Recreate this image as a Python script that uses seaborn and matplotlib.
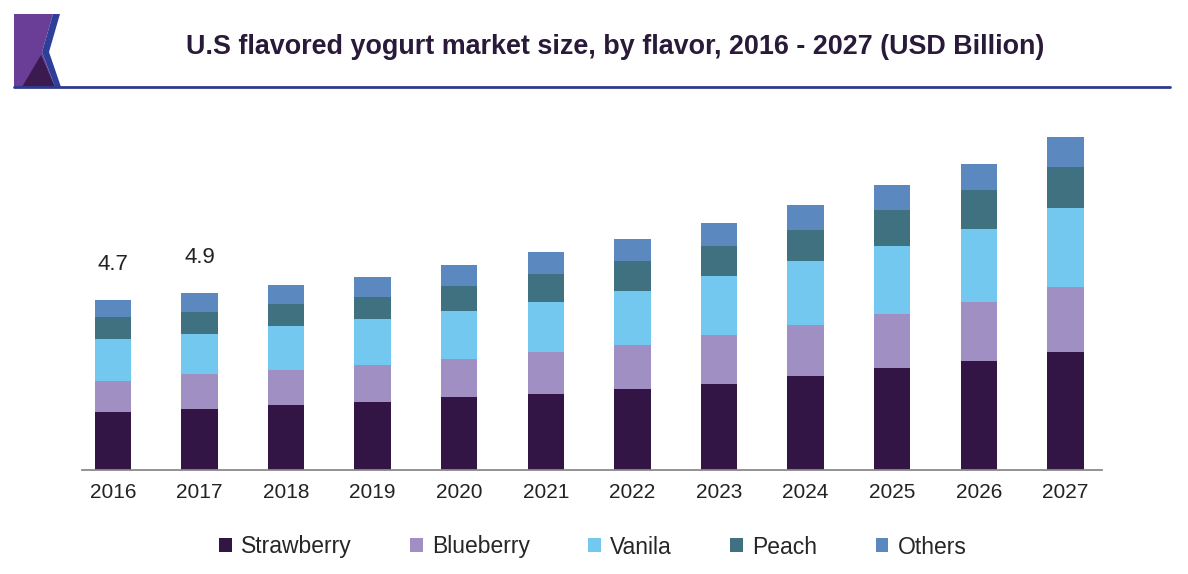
import numpy as np
import pandas as pd
import matplotlib
matplotlib.use("Agg")
import matplotlib.pyplot as plt
from matplotlib.patches import Patch, Polygon
import seaborn as sns

# ---- data (USD Billion) ----
years = ["2016", "2017", "2018", "2019", "2020", "2021",
         "2022", "2023", "2024", "2025", "2026", "2027"]
strawberry = [1.61, 1.70, 1.80, 1.89, 2.01, 2.10, 2.23, 2.39, 2.60, 2.81, 3.02, 3.27]
blueberry = [0.85, 0.94, 0.97, 1.01, 1.06, 1.15, 1.22, 1.35, 1.40, 1.50, 1.61, 1.78]
vanila = [1.15, 1.13, 1.22, 1.26, 1.33, 1.40, 1.50, 1.61, 1.77, 1.88, 2.02, 2.18]
peach = [0.61, 0.59, 0.60, 0.62, 0.68, 0.77, 0.82, 0.83, 0.86, 0.98, 1.07, 1.15]
others = [0.48, 0.54, 0.53, 0.55, 0.58, 0.59, 0.60, 0.63, 0.69, 0.69, 0.74, 0.81]
flavors = ["Strawberry", "Blueberry", "Vanila", "Peach", "Others"]
colors = ["#321445", "#a08fc3", "#72c8ee", "#3f7180", "#5b89bf"]
labelled = {"2016": "4.7", "2017": "4.9"}

df = pd.DataFrame({"year": years, "Strawberry": strawberry, "Blueberry": blueberry,
                   "Vanila": vanila, "Peach": peach, "Others": others})
cum = df[flavors].cumsum(axis=1)

sns.set_style("white")
plt.rcParams["font.family"] = ["Liberation Sans", "DejaVu Sans"]

fig = plt.figure(figsize=(11.88, 5.74), dpi=100)

# header decoration (pixel coordinates of the figure)
deco = fig.add_axes([0, 0, 1, 1], zorder=-1)
deco.set_xlim(0, 1188)
deco.set_ylim(574, 0)
deco.axis("off")
deco.add_patch(Polygon([(14, 14), (53, 14), (42, 52), (55, 87), (14, 87)], color="#6a3e96", lw=0))
deco.add_patch(Polygon([(53, 14), (60, 14), (49, 52), (61, 87), (55, 87), (42, 52)], color="#2e3f9a", lw=0))
deco.add_patch(Polygon([(22, 87), (41, 55), (55, 87)], color="#3a1a4f", lw=0))
deco.plot([14, 1170], [87, 87], color="#2e3a8c", lw=2)

fig.text(0.518, 1 - 47 / 574, "U.S flavored yogurt market size, by flavor, 2016 - 2027 (USD Billion)",
         ha="center", va="center", fontsize=19.4, fontweight="bold", color="#2a1a3a")

ax = fig.add_axes([0.0688, 0.181, 0.8586, 0.631])

# stacked bars: draw cumulative totals from the top down so each layer overlays the next
for flavor, color in reversed(list(zip(flavors, colors))):
    sns.barplot(x=df["year"], y=cum[flavor], color=color, width=0.42,
                linewidth=0, saturation=1, ax=ax)

for i, yr in enumerate(years):
    if yr in labelled:
        ax.annotate(labelled[yr], (i, cum["Others"][i]), xytext=(0, 18),
                    textcoords="offset points", ha="center", va="bottom",
                    fontsize=16, color="#222222")

ax.set_xlim(-0.36, 11.42)
ax.set_ylim(0, 10)
ax.set_xlabel("")
ax.set_ylabel("")
ax.set_yticks([])
ax.tick_params(axis="x", length=0, pad=9, labelsize=15, labelcolor="#222222")
for s in ["top", "right", "left"]:
    ax.spines[s].set_visible(False)
ax.spines["bottom"].set_color("#8a8a8a")
ax.spines["bottom"].set_linewidth(1.3)

handles = [Patch(facecolor=c, edgecolor="none", label=f) for f, c in zip(flavors, colors)]
fig.legend(handles=handles, loc="center", bbox_to_anchor=(0.499, 1 - 547 / 574), ncol=5,
           frameon=False, fontsize=16.5, handlelength=0.55, handleheight=0.55,
           handletextpad=0.4, columnspacing=2.55)

fig.savefig("out.png", dpi=100)
